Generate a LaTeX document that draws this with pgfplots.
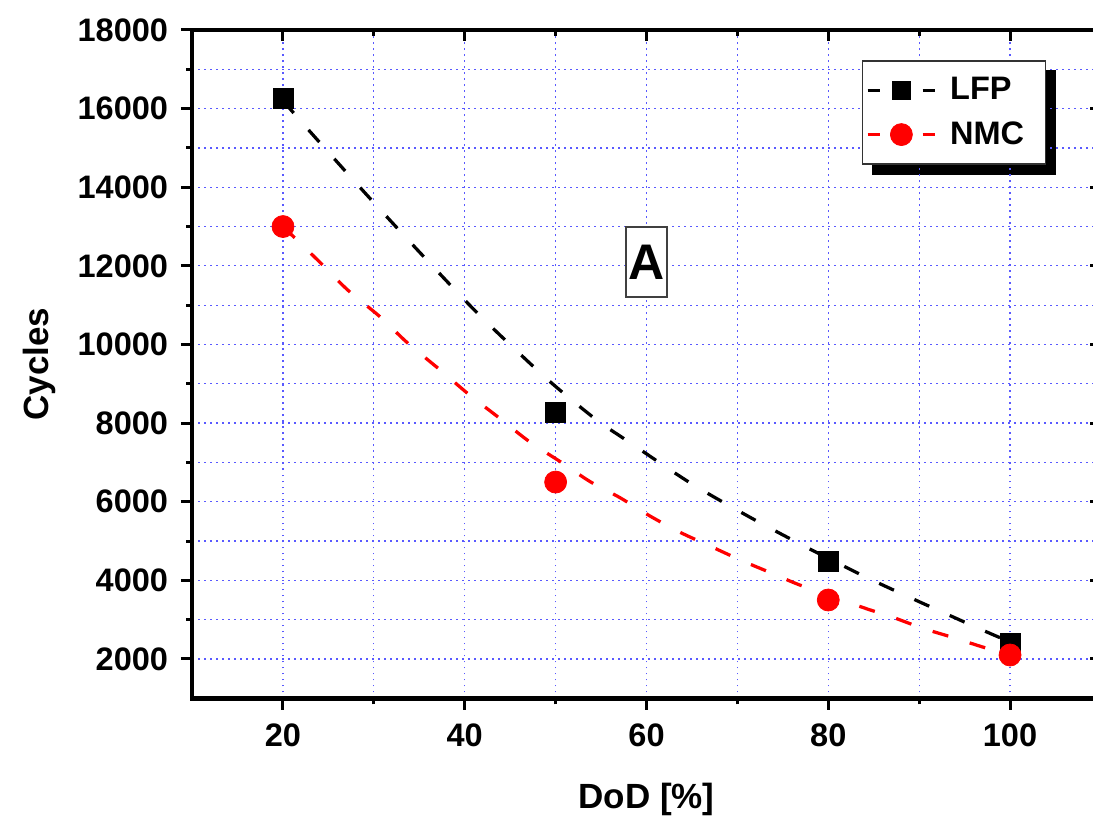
\documentclass[border=0pt]{standalone}
\usepackage{fontspec}
\setmainfont{Liberation Sans}
\usepackage{pgfplots}
\pgfplotsset{compat=1.18}

\pgfplotsset{
  frame/.style={
    width=363.5pt, height=267.3pt, scale only axis,
    xmin=10, xmax=110, ymin=1000, ymax=18000,
    xtick={20,40,...,100}, ytick={2000,4000,...,18000},
    minor x tick num=1, minor y tick num=1,
    major tick length=4.5pt, minor tick length=2.4pt,
    every tick/.style={black, line width=1.2pt},
    scaled y ticks=false,
    /pgf/number format/assume math mode=true,
    /pgf/number format/1000 sep={},
    tick label style={font=\fontsize{13}{15}\selectfont\bfseries},
  },
  legbox/.style={
    legend cell align=left,
    legend style={at={(rel axis cs:0.737,0.9547)}, anchor=north west,
      line width=0.6pt,
      font=\fontsize{13}{15}\selectfont\bfseries,
      inner xsep=1pt, inner ysep=4.5pt, row sep=3.2pt, column sep=-2.5pt,
      nodes={inner xsep=7.5pt}},
  },
}

\begin{document}
\begin{tikzpicture}
% legend shadow: same legend, filled black, shifted
\begin{axis}[frame, hide axis, legbox,
  legend style={xshift=4pt, yshift=-4pt, draw=black, fill=black},
  legend image code/.code={\path[draw=none, fill=none] (-1pt,-4.6pt) rectangle (28pt,4.6pt);},
]
\addlegendimage{draw=none}
\addlegendentry{\phantom{LFP}}
\addlegendimage{draw=none}
\addlegendentry{\phantom{NMC}}
\end{axis}

\begin{axis}[frame, legbox,
  xtick pos=left, ytick pos=left, tick align=outside,
  yticklabel style={xshift=-1.6pt},
  xticklabel style={yshift=-2pt},
  axis line style={line width=1.9pt},
  grid=both,
  major grid style={blue!65, line width=0.5pt, dash pattern=on 0.7pt off 1.7pt},
  minor grid style={blue!65, line width=0.5pt, dash pattern=on 0.7pt off 1.7pt},
  xlabel={DoD [\%]}, ylabel={Cycles},
  every axis x label/.style={at={(axis description cs:0.5,0)}, anchor=center, yshift=-40.4pt,
    font=\fontsize{14}{16}\selectfont\bfseries},
  every axis y label/.style={at={(axis description cs:0,0.5)}, anchor=center, xshift=-61pt, rotate=90,
    font=\fontsize{14}{16}\selectfont\bfseries},
  legend image code/.code={
    \path[draw=none, fill=none] (-1pt,-4.6pt) rectangle (28pt,4.6pt);
    \draw[#1, solid, mark=none] (0pt,0pt) -- (5pt,0pt) (22pt,0pt) -- (27pt,0pt);
    \draw[#1, solid] plot coordinates {(13.5pt,0pt)};},
  legend style={draw=black!80, fill=white},
]
% fitted curves
\addplot[black, line width=1.3pt, dash pattern=on 6.5pt off 9pt, smooth, forget plot] coordinates {
  (20,16200) (23.3,15330) (29.2,13810) (35.3,12280) (41.6,10750) (48.2,9300)
  (51.5,8640) (54.8,8030) (58.2,7500) (64.8,6480) (71.5,5590) (78.2,4770)
  (84.8,4010) (91.5,3300) (97.9,2640) (100,2440)};
\addplot[red, line width=1.3pt, dash pattern=on 6.5pt off 9pt, smooth, forget plot] coordinates {
  (20,13000) (23.8,12150) (27.1,11390) (30.7,10700) (33.7,10040) (37.3,9350)
  (40.5,8720) (43.8,8130) (47.1,7530) (50.5,7020) (53.8,6510) (57.1,6100)
  (60.5,5620) (63.8,5210) (67.1,4860) (70.5,4500) (73.8,4180) (77.1,3860)
  (83.8,3310) (87.1,3060) (90.4,2780) (93.8,2540) (96.9,2310) (100,2100)};
% measured points
\addplot[only marks, mark=square*, mark size=4pt, mark options={solid, black, fill=black, line width=0.3pt}, forget plot]
  coordinates {(20,16250) (50,8260) (80,4480) (100,2400)};
\addplot[only marks, mark=*, mark size=4.4pt, mark options={solid, red, fill=red, line width=0.3pt}, forget plot]
  coordinates {(20,13000) (50,6500) (80,3500) (100,2100)};

\addlegendimage{black, line width=1.3pt, mark=square*, mark size=3.7pt, mark options={solid, fill=black, line width=0.3pt}}
\addlegendentry{LFP}
\addlegendimage{red, line width=1.3pt, mark=*, mark size=4.4pt, mark options={solid, fill=red, line width=0.3pt}}
\addlegendentry{NMC}

\node[draw=black!75, line width=0.6pt, fill=white, inner xsep=1pt, minimum height=28pt,
  font=\fontsize{20}{24}\selectfont\bfseries] at (axis cs:60,12100) {A};

\coordinate (bbSW) at (axis cs:-11.14,-2019);
\coordinate (bbNE) at (axis cs:109.13,18763);
\end{axis}
% mirrored ticks pointing inward on top and right
\begin{axis}[frame,
  axis line style={draw=none},
  xtick pos=right, ytick pos=right, tick align=inside,
  xticklabels={}, yticklabels={},
]
\end{axis}
\pgfresetboundingbox
\useasboundingbox (bbSW) rectangle (bbNE);
\end{tikzpicture}
\end{document}
